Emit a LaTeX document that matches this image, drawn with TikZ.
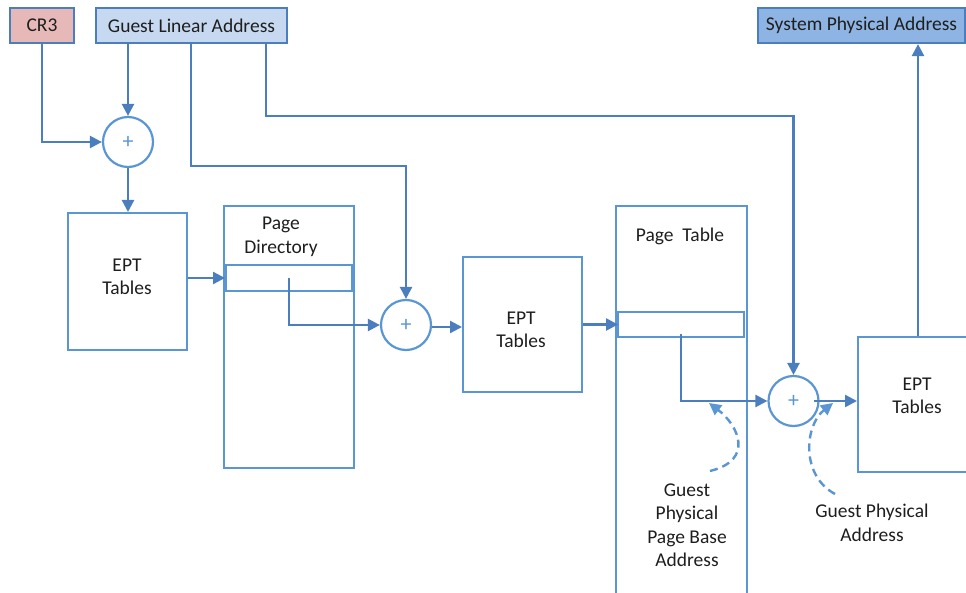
\documentclass[tikz,border=0pt]{standalone}
\usepackage{fontspec}
\setmainfont{Carlito}
\usetikzlibrary{arrows.meta}
\definecolor{wire}{RGB}{74,126,190}
\definecolor{frame}{RGB}{91,150,212}
\definecolor{crfill}{RGB}{230,185,184}
\definecolor{glafill}{RGB}{198,217,241}
\definecolor{spafill}{RGB}{142,180,227}
\definecolor{ink}{RGB}{30,30,30}
\tikzset{
  txt/.style={font=\fontsize{19.5}{23.5}\selectfont, text=ink, align=center},
  header/.style={draw=wire, line width=2.2pt, inner sep=0pt, txt},
  block/.style={draw=frame, line width=2pt, inner sep=0pt},
  entry/.style={draw=frame, line width=2pt, inner sep=0pt},
  adder/.style={circle, draw=frame, line width=2.2pt, minimum size=50pt, inner sep=0pt,
    font=\fontsize{22}{22}\selectfont, text=frame},
  arr/.style={draw=wire, line width=2.4pt, -{Triangle[length=12pt,width=12pt]}},
  hint/.style={draw=frame, line width=2.4pt, dash pattern=on 8pt off 5pt,
    -{Triangle[length=12pt,width=12pt]}},
}
\begin{document}
\begin{tikzpicture}[x=1pt,y=-1pt]
  \useasboundingbox (0,0) rectangle (966,593);
  \begin{scope}
  \clip (0,0) rectangle (966,593);

  % address registers at the top
  \node[header, fill=crfill, minimum width=64pt, minimum height=35pt] (cr3) at (42,25.5) {CR3};
  \node[header, fill=glafill, minimum width=191pt, minimum height=35pt] (gla) at (191.5,25.5) {Guest Linear Address};
  \node[header, fill=spafill, minimum width=207pt, minimum height=35pt] (spa) at (861.5,25.5) {System Physical Address};

  % adders
  \node[adder] (c1) at (128,142) {+};
  \node[adder] (c2) at (406,325) {+};
  \node[adder] (c3) at (793.5,401) {+};

  % EPT tables
  \node[block, minimum width=119pt, minimum height=137pt] (ept1) at (127.5,281.5) {};
  \node[txt] (ept1label) at (127,277) {EPT\\Tables};
  \node[block, minimum width=119pt, minimum height=135pt] (ept2) at (522.5,324.5) {};
  \node[txt] (ept2label) at (521,330) {EPT\\Tables};
  \node[block, minimum width=120pt, minimum height=135pt] (ept3) at (918,404.5) {};
  \node[txt] (ept3label) at (917,396) {EPT\\Tables};

  % page directory with its selected entry
  \node[block, minimum width=130pt, minimum height=262pt] (pd) at (289,337) {};
  \node[txt] (pdlabel) at (281,237) {Page\\Directory};
  \node[entry, minimum width=126pt, minimum height=26pt] (pde) at (289,278) {};

  % page table with its selected entry
  \node[block, minimum width=131pt, minimum height=414pt] (pt) at (681.5,413) {};
  \node[txt] (ptlabel) at (680,236) {Page~ Table};
  \node[entry, minimum width=126pt, minimum height=25pt] (pte) at (681,324.5) {};

  % routing points
  \coordinate (b1) at (191,166);
  \coordinate (b2) at (266,116);

  % connectors
  \draw[arr] (cr3.south) |- (c1.west);
  \draw[arr] (c1.north |- gla.south) -- (c1.north);
  \draw[arr] (c1.south) -- (c1.south |- ept1.north);
  \draw[arr] (gla.south -| b1) -- (b1) -| (c2.north);
  \draw[arr] (gla.south -| b2) -- (b2) -| (c3.north);
  \draw[arr] (pde.west -| ept1.east) -- (pde.west);
  \draw[arr] (pde.center) |- (c2.west);
  \draw[arr] ([yshift=-2pt]c2.east) -- ([yshift=-2pt]c2.east -| ept2.west);
  \draw[arr] (pte.west -| ept2.east) -- ([xshift=1pt]pte.west);
  \draw[arr] ([yshift=4pt]pte.south) |- (c3.west);
  \draw[arr] ([xshift=-6pt]c3.east) -- (c3.east -| ept3.west);
  \draw[arr] (ept3.north) -- (ept3.north |- spa.south);

  % annotations
  \coordinate (n1) at (710,471);
  \coordinate (m1) at (709,403);
  \coordinate (n2) at (835,494);
  \coordinate (m2) at (833,403);
  \draw[hint] (n1) .. controls (755,460) and (738,425) .. (m1);
  \draw[hint] (n2) .. controls (800,475) and (805,425) .. (m2);
  \node[txt] (gppba) at (687,525) {Guest\\Physical\\Page Base\\Address};
  \node[txt] (gpa) at (872,523) {Guest Physical\\Address};
  \end{scope}
\end{tikzpicture}
\end{document}
